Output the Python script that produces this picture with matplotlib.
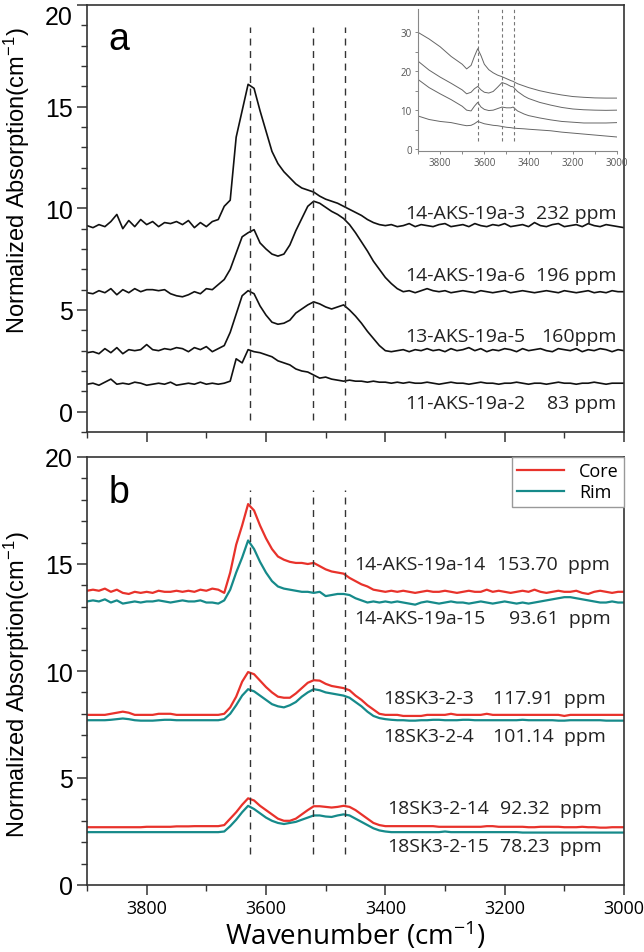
import numpy as np
import matplotlib
matplotlib.use("Agg")
import matplotlib.pyplot as plt
from matplotlib.ticker import MultipleLocator

# wavenumber grid shared by the main panels (cm-1)
wn = np.arange(3900, 2999, -10)

# panel a: spectra
a_3 = [9.15, 9.05, 9.2, 9.1, 9.35, 9.7, 9.0, 9.4, 9.1, 9.45,
       9.2, 9.35, 9.1, 9.3, 9.25, 9.35, 9.2, 9.4, 9.05, 9.3,
       9.1, 9.35, 9.45, 10.1, 10.4, 13.5, 14.8, 16.1, 15.9, 14.8,
       13.8, 12.8, 12.2, 11.8, 11.5, 11.2, 11.0, 10.9, 10.8, 10.6,
       10.45, 10.35, 10.25, 10.1, 9.95, 9.8, 9.65, 9.45, 9.3, 9.2,
       9.15,
       9.2, 9.1, 9.15, 9.25, 9.1, 9.2, 9.15, 9.1, 9.2, 9.25,
       9.1, 9.15, 9.2, 9.1, 9.25, 9.15, 9.1, 9.2, 9.15, 9.25,
       9.1, 9.15, 9.2, 9.1, 9.3, 9.15, 9.1, 9.2, 9.25, 9.1,
       9.15, 9.2, 9.1, 9.25, 9.15, 9.1, 9.2, 9.15, 9.1, 9.05]
a_6 = [5.85, 5.8, 5.95, 5.85, 6.05, 5.75, 6.0, 5.85, 6.05, 5.9,
       6.0, 6.0, 5.95, 6.0, 5.8, 5.7, 5.65, 5.75, 5.9, 5.8,
       6.05, 6.0, 6.25, 6.5, 7.0, 7.8, 8.6, 8.8, 8.95, 8.3,
       8.0, 7.75, 7.65, 7.75, 8.2, 8.9, 9.5, 10.1, 10.35, 10.25,
       10.05, 9.85, 9.7, 9.5, 9.2, 8.8, 8.35, 7.9, 7.4, 7.0,
       6.6, 6.3, 6.05, 5.9, 5.95,
       5.85, 5.95, 6.05, 5.95, 5.9, 5.95, 5.85, 5.9, 5.95, 5.9,
       5.85, 5.95, 5.9, 5.85, 5.9, 5.95, 5.85, 5.9, 5.95, 5.9,
       5.85, 5.9, 5.95, 5.9, 5.85, 5.95, 5.9, 5.85, 5.9, 5.95,
       5.85, 5.9, 5.85, 5.95, 5.9, 5.9]
a_5 = [2.9, 2.95, 2.85, 3.1, 2.9, 3.15, 2.85, 3.05, 3.0, 3.05,
       3.3, 3.05, 3.0, 3.1, 3.05, 3.15, 3.1, 2.95, 3.15, 3.05,
       3.2, 2.95, 3.1, 3.25, 3.9, 4.8, 5.7, 5.95, 5.8, 5.2,
       4.75, 4.4, 4.3, 4.35, 4.5, 4.85, 5.05, 5.25, 5.4, 5.3,
       5.15, 5.05, 5.15, 5.25, 5.0, 4.7, 4.35, 3.95, 3.6, 3.25,
       3.0, 2.95,
       3.0, 3.05, 2.95, 3.05, 3.0, 3.1, 3.0, 3.05, 2.95, 3.1,
       3.0, 3.05, 3.15, 3.0, 3.1, 2.95, 3.05, 3.0, 3.1, 3.05,
       2.95, 3.1, 3.0, 3.05, 3.1, 3.0, 2.95, 3.1, 3.05, 3.0,
       3.1, 2.95, 3.05, 3.0, 3.1, 3.05, 2.95, 3.05, 3.0]
a_2 = [1.35, 1.4, 1.3, 1.45, 1.6, 1.35, 1.4, 1.35, 1.45, 1.4,
       1.3, 1.35, 1.4, 1.35, 1.45, 1.3, 1.35, 1.4, 1.35, 1.45,
       1.35, 1.4, 1.35, 1.4, 1.5, 2.6, 2.4, 3.05, 2.95, 2.9,
       2.8, 2.7, 2.5, 2.4, 2.3, 2.1, 2.0, 1.95, 1.8, 1.65,
       1.7, 1.6, 1.55, 1.5, 1.55, 1.5, 1.5, 1.45, 1.5, 1.45,
       1.45,
       1.4, 1.45, 1.4, 1.45, 1.4, 1.4, 1.45, 1.4, 1.35, 1.4,
       1.45, 1.4, 1.4, 1.35, 1.4, 1.45, 1.4, 1.4, 1.35, 1.4,
       1.4, 1.45, 1.4, 1.35, 1.4, 1.4, 1.35, 1.4, 1.45, 1.4,
       1.4, 1.35, 1.4, 1.4, 1.45, 1.4, 1.35, 1.4, 1.4, 1.4]

a_names = ["14-AKS-19a-3", "14-AKS-19a-6", "13-AKS-19a-5", "11-AKS-19a-2"]
a_ppm = ["232 ppm", "196 ppm", "160ppm", "83 ppm"]
a_label_y = [9.75, 6.7, 3.7, 0.45]

# panel b: core (red) / rim (teal) pairs
b_core_14 = [13.75, 13.8, 13.75, 13.85, 13.7, 13.8, 13.65, 13.6, 13.7, 13.65,
             13.7, 13.65, 13.75, 13.7, 13.7, 13.75, 13.7, 13.75, 13.7, 13.8,
             13.75, 13.85, 13.8, 13.65, 14.6, 15.9, 16.8, 17.8, 17.5, 16.8,
             16.2, 15.7, 15.35, 15.2, 15.1, 15.05, 15.05, 15.0, 15.05, 14.9,
             14.75, 14.65, 14.6, 14.55, 14.35, 14.2, 14.05, 13.95, 13.8, 13.75,
             13.7,
             13.75, 13.7, 13.75, 13.7, 13.65, 13.7, 13.75, 13.7, 13.7, 13.75,
             13.7, 13.65, 13.7, 13.75, 13.7, 13.7, 13.8, 13.7, 13.75, 13.7,
             13.65, 13.7, 13.75, 13.7, 13.8, 13.7, 13.65, 13.7, 13.75, 13.7,
             13.7, 13.75, 13.65, 13.6, 13.7, 13.75, 13.7, 13.65, 13.7, 13.7]
b_rim_15 = [13.25, 13.3, 13.25, 13.35, 13.2, 13.3, 13.15, 13.2, 13.25, 13.2,
            13.25, 13.25, 13.3, 13.25, 13.2, 13.25, 13.3, 13.25, 13.25, 13.3,
            13.2, 13.2, 13.15, 13.3, 13.8, 14.6, 15.3, 16.1, 15.7, 15.1,
            14.6, 14.2, 13.95, 13.85, 13.8, 13.75, 13.7, 13.7, 13.65, 13.7,
            13.5, 13.55, 13.6, 13.6, 13.55, 13.4, 13.3, 13.2, 13.25, 13.2,
            13.25,
            13.2, 13.25, 13.2, 13.15, 13.1, 13.2, 13.25, 13.2, 13.15, 13.2,
            13.25, 13.2, 13.2, 13.15, 13.2, 13.25, 13.2, 13.15, 13.2, 13.25,
            13.2, 13.15, 13.2, 13.15, 13.2, 13.25, 13.3, 13.35, 13.4, 13.45,
            13.45, 13.4, 13.35, 13.3, 13.25, 13.2, 13.2, 13.25, 13.2, 13.2]
b_core_3 = [7.95, 7.95, 7.95, 7.95, 8.0, 8.05, 8.1, 8.05, 7.95, 7.95,
            7.95, 7.95, 8.0, 8.0, 8.0, 7.95, 7.95, 7.95, 7.95, 7.95,
            7.95, 7.95, 7.95, 8.0, 8.3, 8.8, 9.5, 9.95, 9.85, 9.55,
            9.25, 9.0, 8.8, 8.75, 8.75, 8.95, 9.2, 9.45, 9.57, 9.55,
            9.4, 9.3, 9.25, 9.2, 9.1, 8.85, 8.65, 8.4, 8.2, 8.0,
            7.95,
            7.95, 7.95, 7.9, 7.9, 7.9, 7.9, 7.95, 7.95, 7.95, 7.95,
            8.0, 7.95, 7.95, 7.95, 7.95, 7.95, 8.0, 7.95, 7.95, 7.95,
            7.95, 7.95, 7.95, 7.95, 7.95, 7.95, 7.95, 7.95, 7.95, 7.9,
            7.95, 7.95, 7.95, 7.95, 7.95, 7.95, 7.95, 7.95, 7.95, 7.95]
b_rim_4 = [7.7, 7.7, 7.7, 7.7, 7.72, 7.75, 7.78, 7.75, 7.7, 7.68,
           7.68, 7.68, 7.7, 7.72, 7.72, 7.7, 7.7, 7.7, 7.7, 7.7,
           7.7, 7.7, 7.7, 7.75, 8.0, 8.4, 8.85, 9.15, 9.05, 8.85,
           8.65, 8.45, 8.35, 8.3, 8.4, 8.55, 8.8, 9.0, 9.15, 9.1,
           9.0, 8.95, 8.9, 8.85, 8.75, 8.55, 8.35, 8.1, 7.9, 7.8,
           7.75,
           7.72, 7.7, 7.7, 7.68, 7.68, 7.7, 7.7, 7.72, 7.72, 7.7,
           7.7, 7.7, 7.72, 7.72, 7.7, 7.7, 7.7, 7.7, 7.7, 7.7,
           7.7, 7.7, 7.72, 7.7, 7.7, 7.7, 7.7, 7.7, 7.68, 7.68,
           7.7, 7.7, 7.7, 7.7, 7.7, 7.7, 7.68, 7.68, 7.68, 7.68]
b_core_14s = [2.7, 2.7, 2.7, 2.7, 2.7, 2.7, 2.7, 2.7, 2.7, 2.7,
              2.72, 2.72, 2.72, 2.72, 2.72, 2.74, 2.74, 2.74, 2.75, 2.75,
              2.75, 2.75, 2.75, 2.8, 3.1, 3.4, 3.75, 4.05, 3.95, 3.7,
              3.5, 3.3, 3.1, 3.0, 3.0, 3.1, 3.3, 3.5, 3.68, 3.68,
              3.65, 3.62, 3.65, 3.7, 3.65, 3.5, 3.3, 3.1, 2.9, 2.8,
              2.75,
              2.75, 2.75, 2.75, 2.75, 2.75, 2.75, 2.75, 2.75, 2.72, 2.72,
              2.72, 2.72, 2.72, 2.72, 2.72, 2.72, 2.75, 2.75, 2.72, 2.72,
              2.72, 2.72, 2.72, 2.7, 2.7, 2.72, 2.72, 2.72, 2.72, 2.7,
              2.7, 2.7, 2.72, 2.7, 2.7, 2.68, 2.68, 2.7, 2.7, 2.7]
b_rim_15s = [2.47, 2.47, 2.47, 2.47, 2.47, 2.47, 2.47, 2.47, 2.47, 2.47,
             2.47, 2.47, 2.47, 2.47, 2.47, 2.47, 2.47, 2.47, 2.47, 2.47,
             2.47, 2.47, 2.47, 2.5, 2.75, 3.05, 3.4, 3.7, 3.55, 3.35,
             3.15, 3.0, 2.9, 2.85, 2.9, 2.95, 3.05, 3.15, 3.25, 3.25,
             3.2, 3.18, 3.25, 3.3, 3.25, 3.1, 2.95, 2.8, 2.65, 2.55,
             2.5,
             2.47, 2.47, 2.47, 2.47, 2.47, 2.47, 2.47, 2.47, 2.47, 2.5,
             2.47, 2.47, 2.47, 2.47, 2.47, 2.47, 2.47, 2.47, 2.47, 2.47,
             2.47, 2.47, 2.45, 2.45, 2.45, 2.45, 2.45, 2.45, 2.45, 2.45,
             2.45, 2.45, 2.45, 2.45, 2.45, 2.45, 2.45, 2.45, 2.45, 2.45]

b_names = ["14-AKS-19a-14", "14-AKS-19a-15", "18SK3-2-3", "18SK3-2-4",
           "18SK3-2-14", "18SK3-2-15"]
b_ppm = ["153.70  ppm", "93.61  ppm", "117.91  ppm", "101.14  ppm",
         "92.32  ppm", "78.23  ppm"]
b_label_y = [15.0, 12.5, 8.75, 6.95, 3.6, 1.8]
b_name_x = [3453, 3453, 3403, 3403, 3397, 3397]
b_ppm_x = [3023, 3023, 3030, 3030, 3037, 3037]

# inset: raw spectra before baseline correction
ins_wn = [3900, 3850, 3800, 3750, 3700, 3680, 3660, 3645, 3630, 3615,
          3600, 3580, 3560, 3540, 3520, 3500, 3480, 3470, 3450, 3420,
          3400, 3350, 3300, 3250, 3200, 3150, 3100, 3050, 3000]
ins_1 = [30.0, 28.3, 26.3, 23.8, 21.8, 20.6, 21.5, 23.8, 25.8, 24.0,
         21.8, 20.4, 19.6, 19.0, 18.6, 18.1, 17.6, 17.4, 16.8, 16.2,
         15.8, 15.0, 14.4, 13.9, 13.5, 13.3, 13.15, 13.1, 13.1]
ins_2 = [22.6, 20.3, 18.5, 16.9, 15.2, 14.2, 14.6, 15.5, 16.1, 15.2,
         14.6, 14.4, 14.8, 15.9, 17.1, 16.7, 16.1, 16.0, 14.8, 13.6,
         13.0, 12.0, 11.3, 10.7, 10.3, 10.1, 10.0, 9.95, 10.0]
ins_3 = [17.9, 15.8, 14.2, 12.7, 11.0, 10.0, 9.8, 11.0, 12.0, 10.8,
         10.2, 9.9, 10.0, 10.4, 10.8, 10.6, 10.6, 10.8, 9.8, 9.0,
         8.6, 8.0, 7.5, 7.1, 6.9, 6.7, 6.7, 6.7, 6.8]
ins_4 = [8.5, 7.6, 7.1, 6.8, 6.2, 6.0, 6.1, 6.5, 7.1, 6.8,
         6.5, 6.3, 6.1, 6.0, 5.8, 5.6, 5.5, 5.4, 5.3, 5.2,
         5.1, 4.9, 4.7, 4.35, 4.1, 3.85, 3.6, 3.35, 3.1]

peaks = [3627, 3521, 3467]

RED = "#e8322b"
TEAL = "#168a8a"
W, H = 644, 953

plt.rcParams["mathtext.default"] = "regular"
fig = plt.figure(figsize=(W / 100, H / 100), dpi=100)
ax1 = fig.add_axes([87 / W, 1 - 433 / H, 537 / W, 427 / H])
ax2 = fig.add_axes([87 / W, 1 - 886 / H, 537 / W, 428 / H])


def style_main(ax, ylo):
    ax.set_xlim(3900, 3000)
    ax.set_ylim(ylo, 20)
    ax.xaxis.set_major_locator(MultipleLocator(200))
    ax.xaxis.set_minor_locator(MultipleLocator(100))
    ax.yaxis.set_major_locator(MultipleLocator(5))
    ax.yaxis.set_minor_locator(MultipleLocator(1))
    ax.tick_params(which="major", direction="out", length=7, width=1.1, color="#333")
    ax.tick_params(which="minor", direction="out", length=4.5, width=1.0, color="#333")
    ax.tick_params(axis="y", labelsize=18, pad=3)
    for s in ax.spines.values():
        s.set_color("#333")
        s.set_linewidth(1.2)


# ---- panel a ----
style_main(ax1, -1)
ax1.set_yticks([0, 5, 10, 15, 20])
ax1.set_yticklabels(["0", "5", "10", "15", "20"], family="Liberation Sans")
# the top label sits just under the frame, as in the original
ax1.get_yticklabels()[-1].set_va("top")
ax1.tick_params(axis="x", labelbottom=False)
for ys in [a_3, a_6, a_5, a_2]:
    ax1.plot(wn, ys, color="#111", lw=1.2)
ax1.vlines(peaks, -0.4, 18.9, colors="#333", linestyles=(0, (5, 4)), lw=1.0)
for name, ppm, y in zip(a_names, a_ppm, a_label_y):
    ax1.text(3367, y, name, ha="left", va="center", fontsize=14,
             family="Open Sans", color="#222")
    ax1.text(3013, y, ppm, ha="right", va="center", fontsize=14,
             family="Open Sans", color="#222")
ax1.text(0.06, 0.92, "a", transform=ax1.transAxes, ha="center", va="center",
         fontsize=27, family="Liberation Sans")

# ---- inset ----
axin = fig.add_axes([418 / W, 1 - 152 / H, 199 / W, 142 / H])
axin.patch.set_alpha(0)
for ys in [ins_1, ins_2, ins_3, ins_4]:
    axin.plot(ins_wn, ys, color="#666", lw=0.7)
axin.vlines(peaks, 2, 36, colors="#777", linestyles=(0, (3, 2.5)), lw=0.8)
axin.set_xlim(3900, 3000)
axin.set_ylim(-0.5, 36)
axin.set_xticks([3800, 3600, 3400, 3200, 3000])
axin.set_xticks([3900, 3700, 3500, 3300, 3100], minor=True)
axin.set_yticks([0, 10, 20, 30])
axin.set_yticks([5, 15, 25], minor=True)
axin.spines["top"].set_visible(False)
axin.spines["right"].set_visible(False)
for s in ["left", "bottom"]:
    axin.spines[s].set_color("#888")
    axin.spines[s].set_linewidth(0.8)
axin.tick_params(which="both", direction="out", length=2.5, width=0.7,
                 color="#888", labelsize=7, labelcolor="#555", pad=2)
for lab in axin.get_xticklabels() + axin.get_yticklabels():
    lab.set_family("Open Sans")

# ---- panel b ----
style_main(ax2, 0)
ax2.set_yticks([0, 5, 10, 15, 20])
ax2.set_yticklabels(["0", "5", "10", "15", "20"], family="Liberation Sans")
ax2.set_xticks([3800, 3600, 3400, 3200, 3000])
ax2.set_xticklabels(["3800", "3600", "3400", "3200", "3000"], family="Open Sans")
ax2.tick_params(axis="x", labelsize=13, pad=3)
ax2.plot(wn, b_core_14, color=RED, lw=1.6, label="Core")
ax2.plot(wn, b_rim_15, color=TEAL, lw=1.6, label="Rim")
ax2.plot(wn, b_core_3, color=RED, lw=1.6)
ax2.plot(wn, b_rim_4, color=TEAL, lw=1.6)
ax2.plot(wn, b_core_14s, color=RED, lw=1.6)
ax2.plot(wn, b_rim_15s, color=TEAL, lw=1.6)
ax2.vlines(peaks, 1.45, 18.45, colors="#333", linestyles=(0, (5, 4)), lw=1.0)
for name, ppm, y, xn, xp in zip(b_names, b_ppm, b_label_y, b_name_x, b_ppm_x):
    ax2.text(xn, y, name, ha="left", va="center", fontsize=14,
             family="Open Sans", color="#222")
    ax2.text(xp, y, ppm, ha="right", va="center", fontsize=14,
             family="Open Sans", color="#222")
ax2.text(0.06, 0.918, "b", transform=ax2.transAxes, ha="center", va="center",
         fontsize=27, family="Liberation Sans")
leg = ax2.legend(loc="upper right", borderaxespad=0, fancybox=False,
                 edgecolor="#999", framealpha=1, handlelength=2.6,
                 prop={"family": "Open Sans", "size": 13},
                 borderpad=0.3, labelspacing=0.15, handletextpad=0.8)
leg.get_frame().set_linewidth(1.0)
ax2.set_xlabel("Wavenumber (cm$^{-1}$)", family="Open Sans", fontsize=20,
               labelpad=1)

# y labels placed by hand (not centred on the axes in the original)
fig.text(17 / W, 1 - 181 / H, "Normalized Absorption(cm$^{-1}$)", rotation=90,
         ha="center", va="center", fontsize=17, family="Liberation Sans")
fig.text(17 / W, 1 - 685 / H, "Normalized Absorption(cm$^{-1}$)", rotation=90,
         ha="center", va="center", fontsize=17, family="Liberation Sans")

fig.savefig("out.png", dpi=100)
